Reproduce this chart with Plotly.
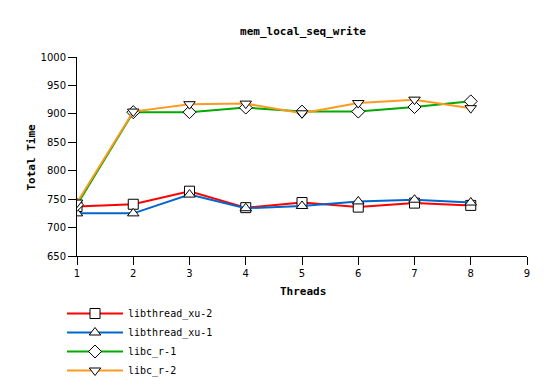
import plotly.graph_objects as go

threads = [1, 2, 3, 4, 5, 6, 7, 8]
xu2 = [737, 741, 764, 735, 744, 736, 743, 739]
xu1 = [725, 725, 758, 734, 738, 746, 749, 744]
libc_r1 = [740, 903, 903, 911, 904, 904, 912, 922]
libc_r2 = [744, 904, 917, 918, 901, 919, 925, 910]

series = [
    ("libthread_xu-2", xu2, "#ff0000", "square"),
    ("libthread_xu-1", xu1, "#0066cc", "triangle-up"),
    ("libc_r-1", libc_r1, "#00aa00", "diamond"),
    ("libc_r-2", libc_r2, "#ff9922", "triangle-down"),
]

W, H = 554, 391
OFF = 8  # page body margin in the screenshot

fig = go.Figure()
for name, vals, color, sym in series:
    fig.add_trace(go.Scatter(
        x=threads, y=vals, name=name, mode="lines+markers",
        line=dict(color=color, width=2),
        marker=dict(symbol=sym, size=10, color="white",
                    line=dict(color="black", width=1)),
    ))

L, T = 77 - OFF, 57 - OFF
R_edge, B_edge = 527 - OFF, 256 - OFF
pw, ph = R_edge - L, B_edge - T

fig.update_layout(
    width=W, height=H,
    margin=dict(l=L, r=W - R_edge, t=T, b=H - B_edge, autoexpand=False),
    paper_bgcolor="white", plot_bgcolor="white",
    font=dict(family="DejaVu Sans Mono", size=11, color="black"),
    title=dict(text="<b>mem_local_seq_write</b>", x=(303 - OFF) / W,
               xanchor="center", xref="container", yref="container",
               y=1 - (31 - OFF) / H, yanchor="middle",
               font=dict(family="DejaVu Sans Mono", size=11)),
    showlegend=True,
    legend=dict(xref="container", yref="container",
                x=(62 - OFF) / W, y=1 - (299 - OFF) / H,
                xanchor="left", yanchor="top",
                font=dict(family="DejaVu Sans Mono", size=10),
                tracegroupgap=0, itemwidth=56, bgcolor="rgba(0,0,0,0)"),
    annotations=[
        dict(text="<b>Threads</b>", xref="paper", yref="paper",
             x=(303 - 77) / pw, y=-(291.5 - 256) / ph, showarrow=False,
             xanchor="center", yanchor="middle",
             font=dict(family="DejaVu Sans Mono", size=11)),
        dict(text="<b>Total Time</b>", xref="paper", yref="paper",
             x=-(77 - 31) / pw, y=(256 - 157.5) / ph, showarrow=False,
             xanchor="center", yanchor="middle", textangle=-90,
             font=dict(family="DejaVu Sans Mono", size=11)),
    ],
)
fig.update_xaxes(
    range=[1, 9], tickvals=list(range(1, 10)), showgrid=False, zeroline=False,
    showline=True, linecolor="black", linewidth=1, ticks="outside",
    ticklen=8, tickcolor="black", tickfont=dict(family="DejaVu Sans", size=10),
    automargin=False,
)
fig.update_yaxes(
    range=[650, 1000], tickvals=list(range(650, 1001, 50)), showgrid=False,
    zeroline=False, showline=True, linecolor="black", linewidth=1,
    ticks="outside", ticklen=8, tickcolor="black",
    tickfont=dict(family="DejaVu Sans", size=10),
    automargin=False,
)

fig.write_html("out.html")
